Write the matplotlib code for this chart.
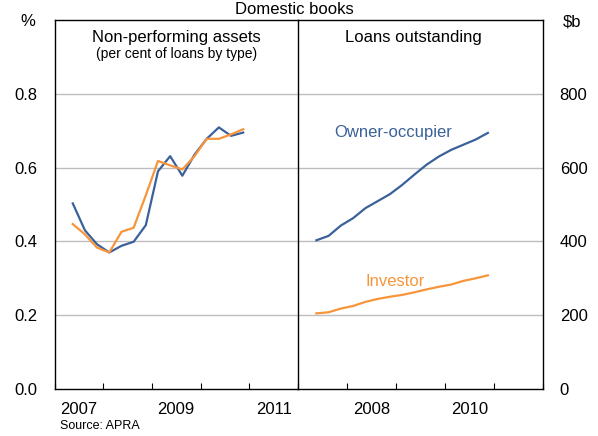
import matplotlib.pyplot as plt
import numpy as np

plt.rcParams['font.family'] = ['Liberation Sans', 'DejaVu Sans']

# quarterly dates, mid 2007 to late 2010
dates = [2007.375 + 0.25 * i for i in range(15)]

# non-performing assets, per cent of loans
npa_owner = [0.503, 0.430, 0.392, 0.370, 0.388, 0.399, 0.444, 0.590,
             0.631, 0.578, 0.635, 0.678, 0.709, 0.686, 0.695]
npa_investor = [0.447, 0.419, 0.383, 0.370, 0.426, 0.437, 0.525, 0.618,
                0.606, 0.595, 0.631, 0.678, 0.678, 0.690, 0.704]

# loans outstanding, $b
loans_owner = [403, 415, 443, 463, 490, 509, 528, 553, 581, 608,
               630, 648, 662, 676, 694]
loans_investor = [205, 208, 218, 225, 236, 244, 250, 255, 262, 270,
                  277, 283, 293, 300, 308]

left_years = ['2007', '2009', '2011']
right_years = ['2008', '2010']

blue = '#3A6199'
orange = '#F7953B'
grid_c = '#BDBDBD'

fig = plt.figure(figsize=(5.98, 4.36), dpi=100)
W, H = 598, 436
x0, xm, x1 = 54.5, 298, 543
yb, yt = 389, 20

ax1 = fig.add_axes([x0 / W, 1 - yb / H, (xm - x0) / W, (yb - yt) / H])
ax2 = fig.add_axes([xm / W, 1 - yb / H, (x1 - xm) / W, (yb - yt) / H])

ax1.plot(dates, npa_owner, color=blue, lw=1.6)
ax1.plot(dates, npa_investor, color=orange, lw=1.6)
ax2.plot(dates, loans_owner, color=blue, lw=1.6)
ax2.plot(dates, loans_investor, color=orange, lw=1.6)

ax1.set_ylim(0, 1.0)
ax2.set_ylim(0, 1000)
for ax in (ax1, ax2):
    ax.set_xlim(2007, 2012)
    ax.set_xticks(range(2007, 2013))
    ax.tick_params(axis='x', which='major', direction='in', length=4,
                   width=0.8, labelbottom=False, top=False)
    ax.tick_params(axis='x', which='minor', length=0, pad=9, labelsize=12)
    for s in ax.spines.values():
        s.set_linewidth(1.0)
    ax.set_axisbelow(True)

ax1.spines['right'].set_visible(False)

ax1.set_xticks([2007.5, 2009.5, 2011.5], minor=True)
ax1.set_xticklabels(left_years, minor=True)
ax2.set_xticks([2008.5, 2010.5], minor=True)
ax2.set_xticklabels(right_years, minor=True)

ax1.set_yticks([0, 0.2, 0.4, 0.6, 0.8])
ax1.set_yticklabels(['0.0', '0.2', '0.4', '0.6', '0.8'])
ax1.tick_params(axis='y', length=0, pad=12, labelsize=12)
ax2.set_yticks([0, 200, 400, 600, 800])
ax2.yaxis.tick_right()
ax2.tick_params(axis='y', length=0, pad=12, labelsize=12,
                left=False, labelleft=False)

for ax, ticks in ((ax1, [0.2, 0.4, 0.6, 0.8]), (ax2, [200, 400, 600, 800])):
    for t in ticks:
        ax.axhline(t, color=grid_c, lw=1.0, zorder=0)

ax1.text(0.5, 0.953, 'Non-performing assets', transform=ax1.transAxes,
         ha='center', va='center', fontsize=12)
ax1.text(0.5, 0.907, '(per cent of loans by type)', transform=ax1.transAxes,
         ha='center', va='center', fontsize=10)
ax2.text(0.47, 0.953, 'Loans outstanding', transform=ax2.transAxes,
         ha='center', va='center', fontsize=12)

ax2.text(2008.94, 696, 'Owner-occupier', color=blue, fontsize=12,
         ha='center', va='center')
ax2.text(2008.98, 290, 'Investor', color=orange, fontsize=12,
         ha='center', va='center')

fig.text(294 / W, 1 - 9 / H, 'Domestic books', ha='center', va='center',
         fontsize=12)
fig.text(28 / W, 1 - 22 / H, '%', ha='center', va='center', fontsize=12)
fig.text(572 / W, 1 - 22 / H, '$b', ha='center', va='center', fontsize=12)
fig.text(60 / W, 1 - 426 / H, 'Source: APRA', ha='left', va='center',
         fontsize=9)

fig.savefig('out.png', dpi=100)
